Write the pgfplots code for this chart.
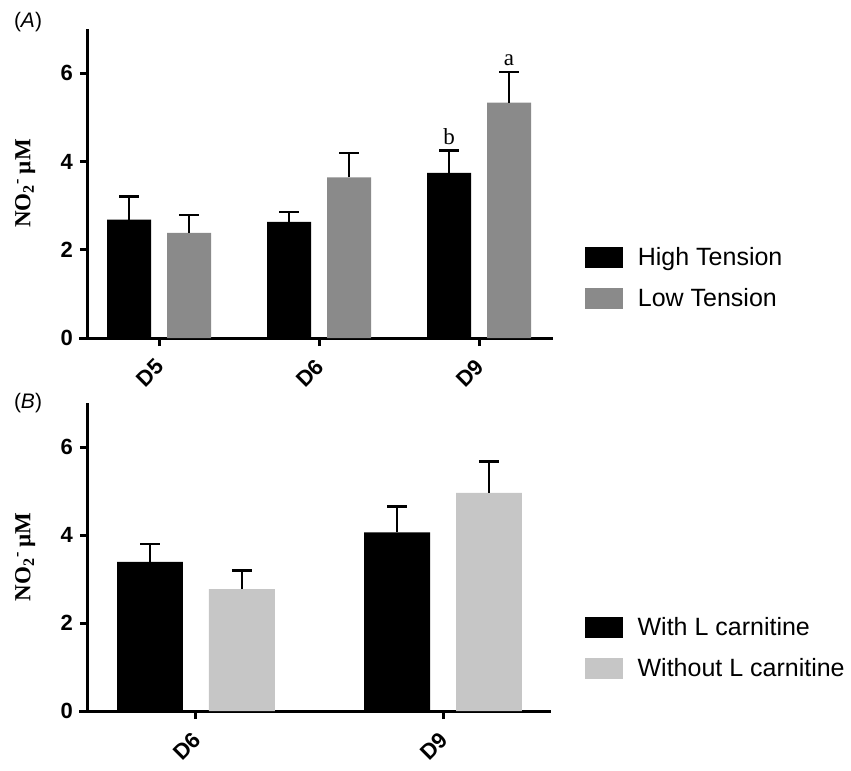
\documentclass[border=0pt]{standalone}
\usepackage{fontspec}
\setmainfont{Liberation Sans}
\newfontfamily\tnr{Liberation Serif}
\usepackage{pgfplots}
\usepackage{pgfplotstable}
\pgfplotsset{compat=1.18}

\definecolor{gA}{HTML}{8A8A8A}
\definecolor{gB}{HTML}{C6C6C6}

\pgfplotstableread{
x y e
-0.1875 2.68 0.53
0.8125 2.63 0.23
1.8125 3.74 0.51
}\topHigh
\pgfplotstableread{
x y e
0.1875 2.38 0.40
1.1875 3.64 0.55
2.1875 5.33 0.70
}\topLow
\pgfplotstableread{
x y e
-0.186 3.39 0.40
0.814 4.06 0.59
}\botWith
\pgfplotstableread{
x y e
0.186 2.77 0.42
1.186 4.96 0.71
}\botWithout

\pgfplotsset{
 common/.style={
  scale only axis,
  axis x line*=bottom, axis y line*=left,
  axis line style={line width=1.5pt,-},
  ymin=0, ymax=7, ytick={0,2,4,6},
  tick align=outside, major tick length=4pt,
  tick style={line width=1.5pt, black},
  /pgf/number format/assume math mode=true,
  tick label style={font=\bfseries\fontsize{11}{12}\selectfont},
  xticklabel style={xshift=3pt, rotate=45, anchor=east},
  xticklabel shift=6pt,
  clip=false,
  legend cell align=left,
  legend style={draw=none, fill=none, font=\fontsize{12.5}{14}\selectfont, anchor=west, inner sep=0pt, row sep=6pt},
  ylabel style={font=\tnr\bfseries\fontsize{11.5}{12}\selectfont, anchor=center},
  ylabel={NO\textsubscript{2}\textsuperscript{-}\,µM},
 },
 herr/.style={error bars/.cd, y dir=plus, y explicit,
   error bar style={line width=1.2pt, draw=black, solid},
   error mark options={rotate=90, mark size=5pt, line width=1.2pt, draw=black},
   /pgfplots/.cd},
 swatch/.style={legend image code/.code={\fill[#1, draw=none] (0pt,-5.25pt) rectangle (19pt,5.25pt); \node[inner sep=0pt, minimum size=0pt, draw=none, fill=none] at (24pt,0pt) {};}},
}

\begin{document}
\begin{tikzpicture}
\begin{axis}[common,
  width=232.5pt, height=154.5pt,
  xmin=-0.444, xmax=2.4625,
  xtick={0,1,2}, xticklabels={D5,D6,D9},
  ylabel style={at={(axis description cs:-0.135,0.5)}},
  legend style={at={(axis description cs:1.069,0.194)}},
]
\addplot[forget plot, ybar, bar width=0.275, bar shift=0pt, fill=black, draw=none, herr]
  table[x=x, y=y, y error=e] {\topHigh};
\addplot[forget plot, ybar, bar width=0.275, bar shift=0pt, fill=gA, draw=none, herr]
  table[x=x, y=y, y error=e] {\topLow};
\addlegendimage{swatch=black}
\addlegendentry{High Tension}
\addlegendimage{swatch=gA}
\addlegendentry{Low Tension}
\draw[line width=1.5pt] (rel axis cs:0,0) -- ++(-4.5pt,0pt);
\node[font=\tnr\fontsize{11.5}{12}\selectfont] at (axis cs:1.8125,4.56) {b};
\node[font=\tnr\fontsize{11.5}{12}\selectfont] at (axis cs:2.1875,6.3) {a};
\node[font=\fontsize{10.5}{12}\selectfont] at ([xshift=-30pt,yshift=3.5pt]rel axis cs:0,1) {(\textit{A})};
\end{axis}

\begin{axis}[common,
  at={(0pt,-186.5pt)},
  width=231.5pt, height=154pt,
  xmin=-0.437, xmax=1.437,
  xtick={0,1}, xticklabels={D6,D9},
  ylabel style={at={(axis description cs:-0.1355,0.5)}},
  legend style={at={(axis description cs:1.073,0.2045)}},
]
\addplot[forget plot, ybar, bar width=0.267, bar shift=0pt, fill=black, draw=none, herr]
  table[x=x, y=y, y error=e] {\botWith};
\addplot[forget plot, ybar, bar width=0.267, bar shift=0pt, fill=gB, draw=none, herr]
  table[x=x, y=y, y error=e] {\botWithout};
\addlegendimage{swatch=black}
\addlegendentry{With L carnitine}
\addlegendimage{swatch=gB}
\addlegendentry{Without L carnitine}
\draw[line width=1.5pt] (rel axis cs:0,0) -- ++(-4.5pt,0pt);
\node[font=\fontsize{10.5}{12}\selectfont] at ([xshift=-30pt,yshift=0pt]rel axis cs:0,1) {(\textit{B})};
\end{axis}
\path (-44pt,169pt) rectangle (381.5pt,-211pt);
\end{tikzpicture}
\end{document}
